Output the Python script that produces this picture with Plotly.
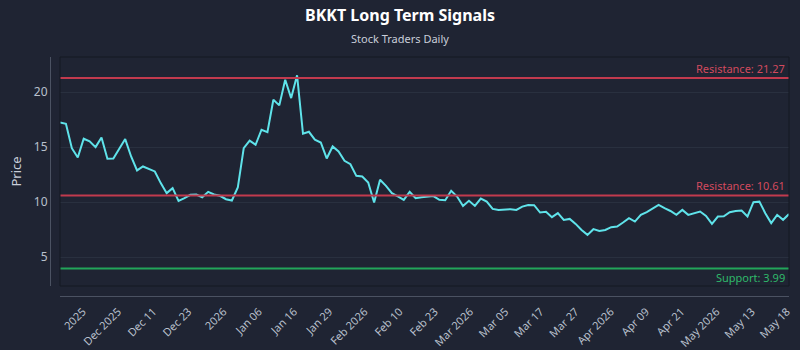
import plotly.graph_objects as go

# ---- data ----
prices = [
    17.24, 17.12, 14.9, 14.06, 15.76, 15.52, 15.0, 15.88, 13.94, 13.97,
    14.85, 15.73, 14.15, 12.88, 13.24, 13.03, 12.79, 11.73, 10.82, 11.27,
    10.12, 10.36, 10.67, 10.70, 10.45, 10.94, 10.70, 10.58, 10.27, 10.15,
    11.33, 14.91, 15.58, 15.21, 16.58, 16.36, 19.30, 18.79, 21.12, 19.45,
    21.52, 16.21, 16.39, 15.67, 15.42, 13.97, 15.06, 14.6, 13.76, 13.45,
    12.39, 12.33, 11.79, 9.97, 12.03, 11.48, 10.82, 10.52,
    10.21, 10.94, 10.36, 10.45, 10.51, 10.55, 10.21, 10.18, 11.03, 10.51,
    9.66, 10.12, 9.66, 10.33, 10.05, 9.39, 9.3, 9.33, 9.36, 9.3,
    9.6, 9.75, 9.73, 9.06, 9.12, 8.64, 9.0, 8.39, 8.48, 8.03,
    7.48, 7.03, 7.55, 7.39, 7.48, 7.73, 7.79, 8.15, 8.55,
    8.24, 8.85, 9.1, 9.4, 9.75, 9.45, 9.2, 8.85, 9.3, 8.85,
    9.0, 9.15, 8.75, 8.03, 8.7, 8.72, 9.09, 9.2, 9.24, 8.7,
    10.0, 10.05, 9.0, 8.1, 8.85, 8.4, 8.92,
]
x_index = list(range(len(prices)))

tick_labels = [
    "2025", "Dec 2025", "Dec 11", "Dec 23", "2026", "Jan 06", "Jan 16",
    "Jan 29", "Feb 2026", "Feb 10", "Feb 23", "Mar 2026", "Mar 05",
    "Mar 17", "Mar 27", "Apr 2026", "Apr 09", "Apr 21", "May 2026",
    "May 13", "May 18",
]
tick_positions = [3.85 + 5.94 * k for k in range(len(tick_labels))]

resistance_levels = [21.27, 10.61]
support_levels = [3.99]

title_text = "BKKT Long Term Signals"
subtitle_text = "Stock Traders Daily"

# ---- style ----
BG = "#1f2433"
FONT = "Noto Sans"
RED = "#c23a4e"
RED_TXT = "#d24a5e"
GREEN = "#22a55a"
GREEN_TXT = "#2fb96a"
LINE = "#5fe3ea"

fig = go.Figure()
fig.add_trace(go.Scatter(
    x=x_index, y=prices, mode="lines",
    line=dict(color=LINE, width=2), showlegend=False,
))

W, H = 800, 350
ml, mr, mt, mb = 50, 11, 57, 54
xdom0 = 10 / (W - ml - mr)
ydom0 = 10 / (H - mt - mb)

for lvl in resistance_levels:
    fig.add_shape(type="line", xref="x domain", yref="y", x0=0, x1=1,
                  y0=lvl, y1=lvl, line=dict(color=RED, width=2))
    fig.add_annotation(xref="x domain", yref="y", x=1, y=lvl,
                       xanchor="right", yanchor="bottom", xshift=-2, yshift=0,
                       text=f"Resistance: {lvl:.2f}", showarrow=False,
                       font=dict(family=FONT, size=11, color=RED_TXT))
for lvl in support_levels:
    fig.add_shape(type="line", xref="x domain", yref="y", x0=0, x1=1,
                  y0=lvl, y1=lvl, line=dict(color=GREEN, width=2))
    fig.add_annotation(xref="x domain", yref="y", x=1, y=lvl,
                       xanchor="right", yanchor="top", xshift=-2, yshift=0,
                       text=f"Support: {lvl:.2f}", showarrow=False,
                       font=dict(family=FONT, size=11, color=GREEN_TXT))

# frame around plot area
fig.add_shape(type="rect", xref="paper", yref="paper", x0=xdom0, x1=1,
              y0=ydom0, y1=1, line=dict(color="#141823", width=1),
              layer="above")

fig.add_annotation(xref="paper", yref="paper", x=(W / 2 - ml) / (W - ml - mr),
                   y=1, xanchor="center", yanchor="middle", yshift=19,
                   text=subtitle_text, showarrow=False,
                   font=dict(family=FONT, size=11, color="#c9ceda"))

fig.update_layout(
    width=W, height=H,
    margin=dict(l=ml, r=mr, t=mt, b=mb, autoexpand=False),
    paper_bgcolor=BG, plot_bgcolor=BG,
    title=dict(text=f"<b>{title_text}</b>", x=0.5, xanchor="center",
               y=1 - 15 / H, yanchor="middle",
               font=dict(family=FONT, size=16, color="#ffffff")),
    font=dict(family=FONT, color="#b9c0cd"),
    xaxis=dict(
        domain=[xdom0, 1], anchor="free", position=0, automargin=False,
        range=[0, len(prices) - 1],
        tickmode="array", tickvals=tick_positions, ticktext=tick_labels,
        tickangle=-45, tickfont=dict(size=11, color="#b9c0cd"),
        ticks="outside", ticklen=4, tickcolor="rgba(0,0,0,0)",
        showgrid=False, zeroline=False,
        showline=True, linecolor="#4b5262", linewidth=1,
    ),
    yaxis=dict(
        domain=[ydom0, 1], anchor="free", position=0, automargin=False,
        range=[2.39, 23.18],
        tickvals=[5, 10, 15, 20], tickfont=dict(size=12, color="#b9c0cd"),
        showgrid=True, gridcolor="#29303f", gridwidth=1,
        zeroline=False, showline=True, linecolor="#4b5262", linewidth=1,
        title=dict(text="Price", font=dict(size=13, color="#c9ceda"),
                   standoff=8),
    ),
)

fig.write_html("out.html")
